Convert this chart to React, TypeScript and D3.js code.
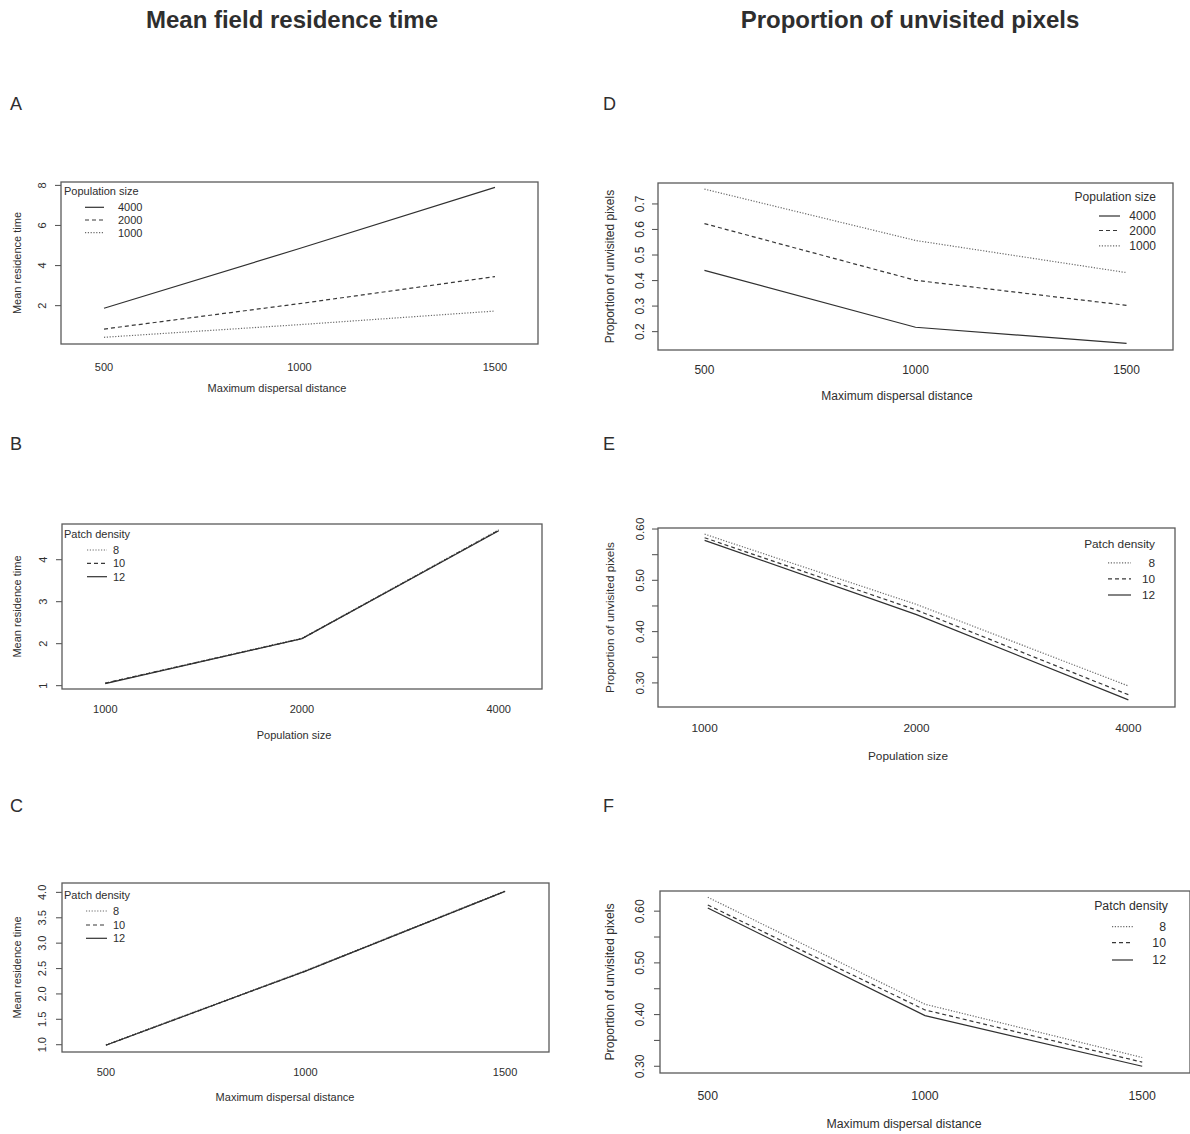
import * as d3 from "d3";

// x categories (plotted at positions 1..3)
const dispersalDistance = ["500", "1000", "1500"];
const populationSize = ["1000", "2000", "4000"];

// A: mean residence time vs dispersal distance, per population size
const resDistPop4000 = [1.87, 4.85, 7.9];
const resDistPop2000 = [0.83, 2.1, 3.45];
const resDistPop1000 = [0.42, 1.05, 1.73];

// D: proportion unvisited vs dispersal distance, per population size
const unvDistPop4000 = [0.44, 0.217, 0.154];
const unvDistPop2000 = [0.623, 0.401, 0.303];
const unvDistPop1000 = [0.758, 0.557, 0.431];

// B: mean residence time vs population size, per patch density
const resPopDens8 = [1.06, 2.13, 4.71];
const resPopDens10 = [1.06, 2.12, 4.7];
const resPopDens12 = [1.05, 2.12, 4.69];

// E: proportion unvisited vs population size, per patch density
const unvPopDens8 = [0.59, 0.453, 0.294];
const unvPopDens10 = [0.583, 0.442, 0.277];
const unvPopDens12 = [0.578, 0.433, 0.267];

// C: mean residence time vs dispersal distance, per patch density
const resDistDens8 = [1.0, 2.46, 4.03];
const resDistDens10 = [0.99, 2.45, 4.02];
const resDistDens12 = [0.99, 2.45, 4.02];

// F: proportion unvisited vs dispersal distance, per patch density
const unvDistDens8 = [0.627, 0.42, 0.317];
const unvDistDens10 = [0.612, 0.409, 0.308];
const unvDistDens12 = [0.606, 0.398, 0.3];

// y ticks
const ticksA = [2, 4, 6, 8];
const ticksD = [0.2, 0.3, 0.4, 0.5, 0.6, 0.7];
const ticksB = [1, 2, 3, 4];
const ticksC = [1.0, 1.5, 2.0, 2.5, 3.0, 3.5, 4.0];
const ticksEF = [0.3, 0.35, 0.4, 0.45, 0.5, 0.55, 0.6];
const labelsEF = [0.3, 0.4, 0.5, 0.6];

const FONT = "'Liberation Sans', Arial, Helvetica, sans-serif";
const INK = "#2e2e2e";

const STYLE = {
  solid: { dash: "none", color: "#303030" },
  dashed: { dash: "4 3", color: "#383838" },
  dotted: { dash: "1.2 1.6", color: "#6a6a6a" },
};

type Kind = keyof typeof STYLE;
type Series = { label: string; values: number[]; kind: Kind };

type PanelCfg = {
  box: [number, number, number, number]; // x0, y0, x1, y1
  yDomain: [number, number];
  yTicks: number[];
  yLabels: number[];
  yFmt: (v: number) => string;
  xCats: string[];
  xTitle: string;
  yTitle: string;
  font: number;
  yTickLabelX: number;
  xTickLabelY: number;
  xTitleX: number;
  xTitleY: number;
  yTitleX: number;
  series: Series[];
  legendTitle: string;
  legend: {
    side: "left" | "right";
    titleX: number;
    titleY: number;
    rows: number[];
    line: [number, number];
    labelX: number;
  };
};

const popSeries = (a: number[], b: number[], c: number[]): Series[] => [
  { label: "4000", values: a, kind: "solid" },
  { label: "2000", values: b, kind: "dashed" },
  { label: "1000", values: c, kind: "dotted" },
];
const densSeries = (a: number[], b: number[], c: number[]): Series[] => [
  { label: "8", values: a, kind: "dotted" },
  { label: "10", values: b, kind: "dashed" },
  { label: "12", values: c, kind: "solid" },
];

const panels: PanelCfg[] = [
  {
    box: [61, 182, 538, 344],
    yDomain: [0.085, 8.17],
    yTicks: ticksA,
    yLabels: ticksA,
    yFmt: d3.format("d"),
    xCats: dispersalDistance,
    xTitle: "Maximum dispersal distance",
    yTitle: "Mean residence time",
    font: 11,
    yTickLabelX: 42,
    xTickLabelY: 367,
    xTitleX: 277,
    xTitleY: 388,
    yTitleX: 17,
    series: popSeries(resDistPop4000, resDistPop2000, resDistPop1000),
    legendTitle: "Population size",
    legend: { side: "left", titleX: 64, titleY: 191, rows: [207.3, 220, 232.7], line: [85, 104], labelX: 118 },
  },
  {
    box: [658, 183, 1173, 350],
    yDomain: [0.128, 0.782],
    yTicks: ticksD,
    yLabels: ticksD,
    yFmt: d3.format(".1f"),
    xCats: dispersalDistance,
    xTitle: "Maximum dispersal distance",
    yTitle: "Proportion of unvisited pixels",
    font: 12,
    yTickLabelX: 640,
    xTickLabelY: 370,
    xTitleX: 897,
    xTitleY: 396,
    yTitleX: 610,
    series: popSeries(unvDistPop4000, unvDistPop2000, unvDistPop1000),
    legendTitle: "Population size",
    legend: { side: "right", titleX: 1156, titleY: 197, rows: [216, 230.5, 245.8], line: [1099, 1120], labelX: 1156 },
  },
  {
    box: [62, 524, 542, 689],
    yDomain: [0.92, 4.85],
    yTicks: ticksB,
    yLabels: ticksB,
    yFmt: d3.format("d"),
    xCats: populationSize,
    xTitle: "Population size",
    yTitle: "Mean residence time",
    font: 11,
    yTickLabelX: 43,
    xTickLabelY: 709,
    xTitleX: 294,
    xTitleY: 735,
    yTitleX: 17,
    series: densSeries(resPopDens8, resPopDens10, resPopDens12),
    legendTitle: "Patch density",
    legend: { side: "left", titleX: 64, titleY: 534, rows: [550, 563.3, 576.7], line: [87, 107], labelX: 113 },
  },
  {
    box: [658, 528, 1175, 707],
    yDomain: [0.253, 0.602],
    yTicks: ticksEF,
    yLabels: labelsEF,
    yFmt: d3.format(".2f"),
    xCats: populationSize,
    xTitle: "Population size",
    yTitle: "Proportion of unvisited pixels",
    font: 11.8,
    yTickLabelX: 640,
    xTickLabelY: 728,
    xTitleX: 908,
    xTitleY: 756,
    yTitleX: 610,
    series: densSeries(unvPopDens8, unvPopDens10, unvPopDens12),
    legendTitle: "Patch density",
    legend: { side: "right", titleX: 1155, titleY: 544, rows: [562.8, 578.9, 595], line: [1108, 1131], labelX: 1155 },
  },
  {
    box: [62, 883, 549, 1052],
    yDomain: [0.856, 4.185],
    yTicks: ticksC,
    yLabels: ticksC,
    yFmt: d3.format(".1f"),
    xCats: dispersalDistance,
    xTitle: "Maximum dispersal distance",
    yTitle: "Mean residence time",
    font: 11,
    yTickLabelX: 42,
    xTickLabelY: 1072,
    xTitleX: 285,
    xTitleY: 1097,
    yTitleX: 17,
    series: densSeries(resDistDens8, resDistDens10, resDistDens12),
    legendTitle: "Patch density",
    legend: { side: "left", titleX: 64, titleY: 895, rows: [911, 925, 938.3], line: [86, 107], labelX: 113 },
  },
  {
    box: [660, 891, 1190, 1073],
    yDomain: [0.287, 0.639],
    yTicks: ticksEF,
    yLabels: labelsEF,
    yFmt: d3.format(".2f"),
    xCats: dispersalDistance,
    xTitle: "Maximum dispersal distance",
    yTitle: "Proportion of unvisited pixels",
    font: 12.3,
    yTickLabelX: 640,
    xTickLabelY: 1096,
    xTitleX: 904,
    xTitleY: 1124,
    yTitleX: 610,
    series: densSeries(unvDistDens8, unvDistDens10, unvDistDens12),
    legendTitle: "Patch density",
    legend: { side: "right", titleX: 1168, titleY: 906, rows: [926.6, 942.7, 960], line: [1112, 1133], labelX: 1166 },
  },
];

const panelLetters = [
  { t: "A", x: 10, y: 110 },
  { t: "D", x: 603, y: 110 },
  { t: "B", x: 10, y: 450 },
  { t: "E", x: 603, y: 450 },
  { t: "C", x: 10, y: 812 },
  { t: "F", x: 603, y: 812 },
];

function Panel({ cfg }: { cfg: PanelCfg }) {
  const [x0, y0, x1, y1] = cfg.box;
  const x = d3.scaleLinear().domain([0.78, 3.22]).range([x0, x1]);
  const y = d3.scaleLinear().domain(cfg.yDomain).range([y1, y0]);
  const line = d3
    .line<number>()
    .x((_, i) => x(i + 1))
    .y((d) => y(d));
  const drawOrder: Kind[] = ["dotted", "dashed", "solid"];
  const sorted = [...cfg.series].sort((a, b) => drawOrder.indexOf(a.kind) - drawOrder.indexOf(b.kind));
  const lg = cfg.legend;
  const anchor = lg.side === "right" ? "end" : "start";
  const fs = cfg.font;
  const yMid = (y0 + y1) / 2;

  return (
    <g fontFamily={FONT} fill={INK}>
      {sorted.map((s) => (
        <path
          key={s.label}
          d={line(s.values) || ""}
          fill="none"
          stroke={STYLE[s.kind].color}
          strokeWidth={1.2}
          strokeDasharray={STYLE[s.kind].dash}
        />
      ))}
      <rect x={x0} y={y0} width={x1 - x0} height={y1 - y0} fill="none" stroke="#5a5a5a" strokeWidth={1.3} />
      {cfg.yTicks.map((t) => (
        <line key={t} x1={x0 - 6} x2={x0} y1={y(t)} y2={y(t)} stroke="#5a5a5a" strokeWidth={1.1} />
      ))}
      {cfg.yLabels.map((t) => (
        <text
          key={t}
          x={cfg.yTickLabelX}
          y={y(t)}
          fontSize={fs}
          textAnchor="middle"
          dominantBaseline="central"
          transform={`rotate(-90, ${cfg.yTickLabelX}, ${y(t)})`}
        >
          {cfg.yFmt(t)}
        </text>
      ))}
      {cfg.xCats.map((c, i) => (
        <text key={c} x={x(i + 1)} y={cfg.xTickLabelY} fontSize={fs} textAnchor="middle" dominantBaseline="central">
          {c}
        </text>
      ))}
      <text x={cfg.xTitleX} y={cfg.xTitleY} fontSize={fs} textAnchor="middle" dominantBaseline="central">
        {cfg.xTitle}
      </text>
      <text
        x={cfg.yTitleX}
        y={yMid}
        fontSize={fs}
        textAnchor="middle"
        dominantBaseline="central"
        transform={`rotate(-90, ${cfg.yTitleX}, ${yMid})`}
      >
        {cfg.yTitle}
      </text>
      <text x={lg.titleX} y={lg.titleY} fontSize={fs} textAnchor={anchor} dominantBaseline="central">
        {cfg.legendTitle}
      </text>
      {cfg.series.map((s, i) => (
        <g key={s.label}>
          <line
            x1={lg.line[0]}
            x2={lg.line[1]}
            y1={lg.rows[i]}
            y2={lg.rows[i]}
            stroke={STYLE[s.kind].color}
            strokeWidth={1.2}
            strokeDasharray={STYLE[s.kind].dash}
          />
          <text x={lg.labelX} y={lg.rows[i]} fontSize={fs} textAnchor={anchor} dominantBaseline="central">
            {s.label}
          </text>
        </g>
      ))}
    </g>
  );
}

export default function App() {
  return (
    <svg
      width={1190}
      height={1134}
      viewBox="0 0 1190 1134"
      style={{ position: "absolute", left: 0, top: 0, background: "#fff", display: "block" }}
    >
      <rect width={1190} height={1134} fill="#fff" />
      <text x={292} y={28} fontFamily={FONT} fontSize={24} fontWeight="bold" fill={INK} textAnchor="middle">
        Mean field residence time
      </text>
      <text x={910} y={28} fontFamily={FONT} fontSize={24} fontWeight="bold" fill={INK} textAnchor="middle">
        Proportion of unvisited pixels
      </text>
      {panelLetters.map((l) => (
        <text key={l.t} x={l.x} y={l.y} fontFamily={FONT} fontSize={18} fill={INK}>
          {l.t}
        </text>
      ))}
      {panels.map((p, i) => (
        <Panel key={i} cfg={p} />
      ))}
    </svg>
  );
}
